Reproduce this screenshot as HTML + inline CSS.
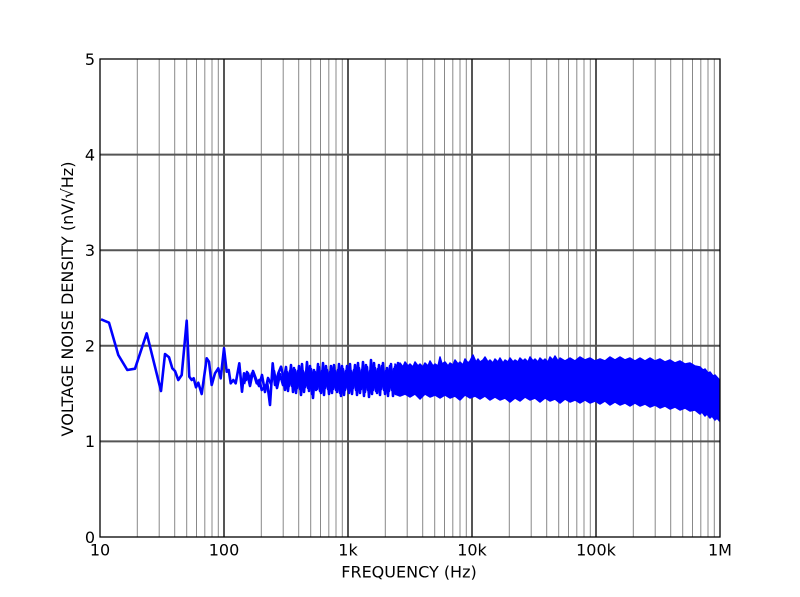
<!DOCTYPE html>
<html>
<head>
<meta charset="utf-8">
<style>
html,body{margin:0;padding:0;background:#fff;}
svg{display:block;}
text{font-family:"DejaVu Sans","Liberation Sans",sans-serif;fill:#000;}
</style>
</head>
<body>
<svg width="800" height="597" viewBox="0 0 800 597" xmlns="http://www.w3.org/2000/svg">
<rect x="0" y="0" width="800" height="597" fill="#fff"/>
<!-- minor vertical grid -->
<g stroke="#888" stroke-width="1">
<path d="M137.3 59V537M159.2 59V537M174.7 59V537M186.7 59V537M196.5 59V537M204.8 59V537M212 59V537M218.3 59V537
M261.3 59V537M283.2 59V537M298.7 59V537M310.7 59V537M320.5 59V537M328.8 59V537M336 59V537M342.3 59V537
M385.3 59V537M407.2 59V537M422.7 59V537M434.7 59V537M444.5 59V537M452.8 59V537M460 59V537M466.3 59V537
M509.3 59V537M531.2 59V537M546.7 59V537M558.7 59V537M568.5 59V537M576.8 59V537M584 59V537M590.3 59V537
M633.3 59V537M655.2 59V537M670.7 59V537M682.7 59V537M692.5 59V537M700.8 59V537M708 59V537M714.3 59V537"/>
</g>
<!-- major grid -->
<g stroke="#555" stroke-width="2">
<path d="M224 59V537M348 59V537M472 59V537M596 59V537"/>
<path d="M100 154.6H720M100 250.2H720M100 345.8H720M100 441.4H720"/>
</g>
<!-- data -->
<polygon fill="#0000ff" points="300,375 330,374 360,373 400,372 400,386 360,386 330,386 300,386"/>
<g fill="none" stroke="#0000ff" stroke-width="2.6" stroke-linejoin="round">
<polyline points="101,319.3 109,322.7 118.3,355 127.3,370 135,368.7 146.7,333.3 161,391 165,354 169,357.3 172.3,368.3 175,371 178.3,380 181.7,375 186.7,320.7 189.3,376.7 191.7,380 193.7,378.3 196,387.3 198.3,382.7 201.7,394 206.7,358.3 209,361.7 211.7,385 215,373.3 218.3,368.3 220.7,378.3 224,348.3 226.7,371.7 228.7,370 230.7,383.3 233.3,380 235.7,383.3 239.3,363.3 242,391.7 244,373.3 246,380 248,373.3 250,380 252,373.3 254.7,376.7 256.7,383.3 259.3,380 261.7,390 265,386.7 267.3,383.3 270,405 272.7,363.3 275,385 278.3,373.3 281,366.7 283,375 285,390 287,372 289,386 291,365 293,392 295,370 297,388 299,366 301,395 303,371 305,387 307,362 309,391 311,369 313,398 315,372 317,389 319,367 321,393 323,363 325,388 327,370 329,394 331,366 333,389 335,371 337,392 339,364 341,396 343,369 345,390 347,366 349,393 351,371 353,388 355,365 357,395 359,368 361,389 363,362 365,392 367,367 369,397 371,360 373,390 375,368 377,393 379,365 381,389 383,363 385,394 387,368 389,391 391,364 393,396 395,367 397,390 399,365 401,394"/>
<polyline points="244,384 247,372 250,386 253,371 256,379 259,386 262,375 265,392 268,378 271,384 274,371 277,388 280,374 283,385 286,367 288,391 290,371 292,386 294,368 296,393 298,371 300,389 302,364 304,392 306,372 308,388 310,366 312,394 314,370 316,390 318,364 320,391 322,371 324,395 326,366 328,389 330,372 332,393 334,365 336,390 338,370 340,393 342,366 344,395 346,371 348,389 350,364 352,394 354,370 356,390 358,363 360,393 362,370 364,396 366,365 368,390 370,371 372,394 374,363 376,391 378,369 380,395 382,366 384,390 386,371 388,396 390,366 392,390 394,369 396,394 398,363 400,392"/>
</g>
<polygon fill="#0000ff" stroke="#0000ff" stroke-width="1.5" stroke-linejoin="round" points="395,364 398,367 400,363 403,367 405,362 408,366 410,364 413,367 415,362 418,366 420,364 423,367 425,363 428,366 430,361 433,366 435,364 438,366 440,357 442,364 445,362 448,366 450,363 453,365 455,360 458,364 460,362 463,365 465,359 468,363 470,361 473,355 476,362 478,359 480,362 483,360 485,357 488,362 490,360 493,363 495,359 498,362 500,358 503,363 505,360 508,362 510,358 513,362 515,360 518,362 520,358 523,361 525,359 528,362 530,357 533,361 535,359 538,362 540,358 543,361 545,359 548,362 550,357 553,360 555,356 558,361 560,358 565,361 570,358 575,361 580,357 585,360 590,358 595,361 600,359 605,361 610,357 615,360 620,357 625,360 630,358 635,361 640,358 645,361 650,358 655,361 660,359 665,362 670,360 675,363 680,361 685,364 690,363 695,366 700,367 703,370 705,369 708,373 710,372 713,376 715,375 719.5,380 719.5,421 717,418 715,420 712,416 710,418 707,414 705,416 702,412 700,414 695,410 690,411 685,408 680,410 675,407 670,409 665,406 660,408 655,405 650,407 645,404 640,406 635,403 630,406 625,403 620,405 615,402 610,405 605,401 600,404 595,401 590,403 585,400 580,403 575,400 570,402 565,399 560,403 555,399 550,401 545,398 540,402 535,398 530,400 525,397 520,401 515,398 510,402 505,398 500,400 495,397 490,400 485,396 480,399 475,396 470,398 465,395 460,400 455,396 450,398 445,395 440,398 435,395 430,397 425,394 420,399 415,394 410,397 405,394 400,396 395,394"/>
<!-- frame -->
<rect x="100" y="59" width="620" height="478" fill="none" stroke="#000" stroke-width="1.3"/>
<!-- y tick labels -->
<g font-size="16" text-anchor="end">
<text x="95" y="543">0</text>
<text x="95" y="447.2">1</text>
<text x="95" y="351.6">2</text>
<text x="95" y="256">3</text>
<text x="95" y="160.4">4</text>
<text x="95" y="64.8">5</text>
</g>
<!-- x tick labels -->
<g font-size="16" text-anchor="middle">
<text x="100" y="555.5">10</text>
<text x="224" y="555.5">100</text>
<text x="348" y="555.5">1k</text>
<text x="472" y="555.5">10k</text>
<text x="596" y="555.5">100k</text>
<text x="720" y="555.5">1M</text>
</g>
<text x="409" y="577.5" font-size="16" text-anchor="middle">FREQUENCY (Hz)</text>
<text transform="translate(73,299) rotate(-90)" font-size="16" text-anchor="middle">VOLTAGE NOISE DENSITY (nV/√Hz)</text>
</svg>
</body>
</html>
